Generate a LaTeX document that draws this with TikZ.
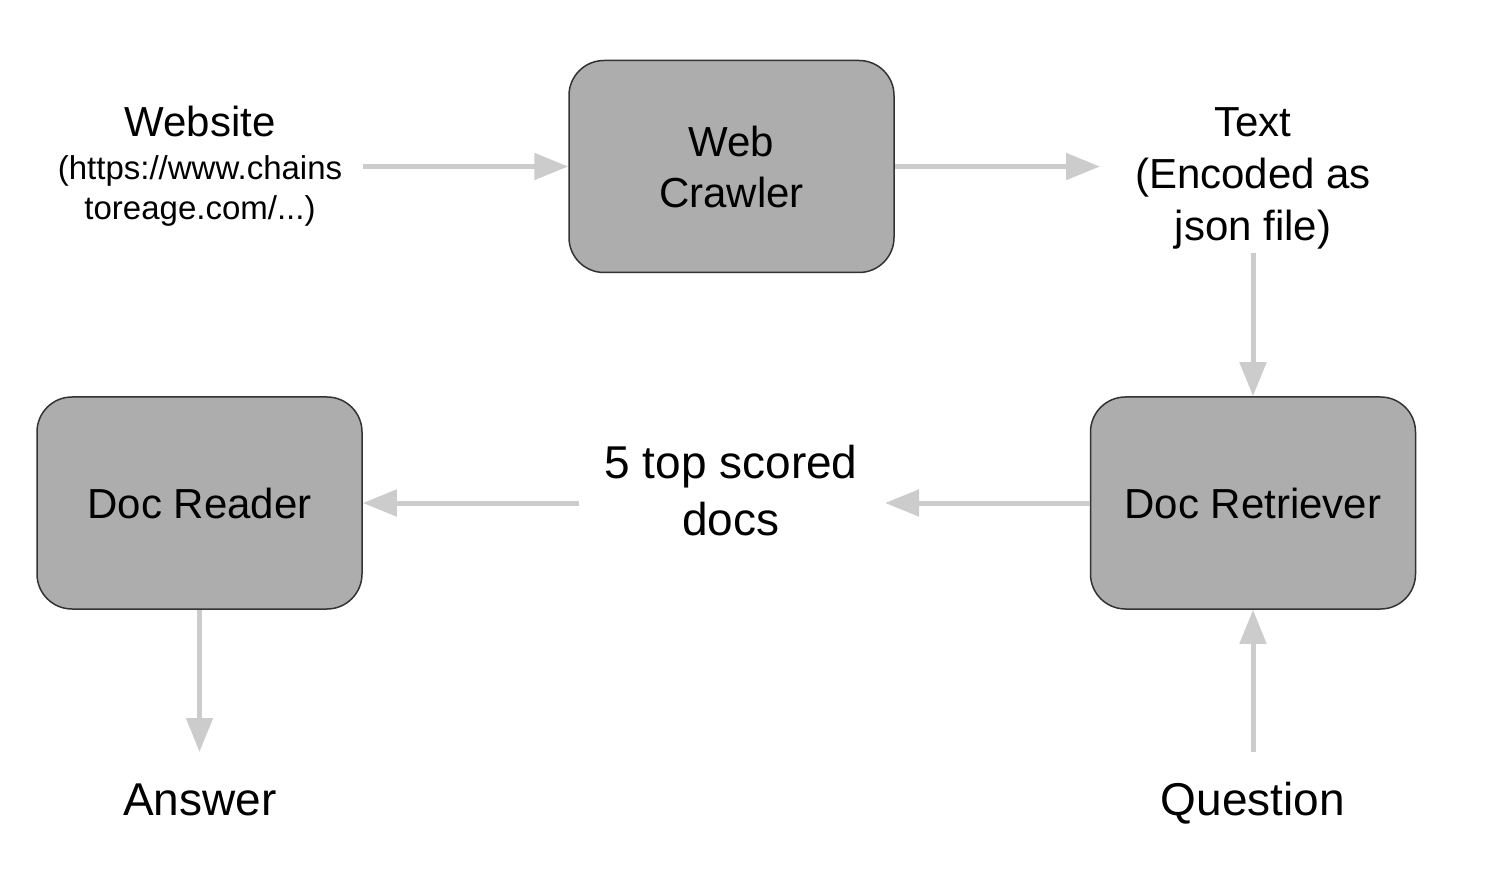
\documentclass[tikz,border=0pt]{standalone}
\usepackage{fontspec}
\setmainfont{Liberation Sans}
\usetikzlibrary{arrows.meta}
\definecolor{boxfill}{HTML}{ADADAD}
\definecolor{boxline}{HTML}{333333}
\definecolor{arrowc}{HTML}{CCCCCC}
\begin{document}
\begin{tikzpicture}[x=1pt,y=-1pt,
  box/.style={draw=boxline, line width=1.5pt, fill=boxfill, rounded corners=35pt,
    minimum width=325pt, minimum height=212pt, align=center,
    font=\fontsize{42}{51}\selectfont, inner sep=0pt},
  lbl/.style={align=center, font=\fontsize{42}{52}\selectfont, inner sep=0pt},
  biglbl/.style={align=center, font=\fontsize{46}{57}\selectfont, inner sep=0pt},
  small/.style={align=center, font=\fontsize{33}{40}\selectfont, inner sep=0pt},
  arr/.style={draw=arrowc, line width=5pt, -{Triangle[length=34pt,width=26pt]}}]
\useasboundingbox (0,0) rectangle (1508,890);
% boxes
\node[box] (crawler) at (731.5,166.5) {Web\\Crawler};
\node[box] (reader) at (199.5,503) {Doc Reader};
\node[box] (retriever) at (1253,503) {Doc Retriever};
% labels
\node[lbl] (website) at (200,121.5) {Website};
\node[small] (url) at (200,191) {(https://www.chains\\toreage.com/...)};
\node[lbl] (textout) at (1253,178) {Text\\(Encoded as\\json file)};
\node[biglbl] (topdocs) at (731,491) {5 top scored\\docs};
\node[biglbl] (answer) at (200,800) {Answer};
\node[biglbl] (question) at (1253,803) {Question};
% arrow free ends
\coordinate (a1s) at (363,166.5);
\coordinate (a2e) at (1100,166.5);
\coordinate (a3s) at (1253,253);
\coordinate (a4e) at (885,503);
\coordinate (a5s) at (579,503);
\coordinate (a6e) at (199.5,752);
\coordinate (a7s) at (1253,752);
% arrows
\draw[arr] (a1s) -- (crawler.west);
\draw[arr] (crawler.east) -- (a2e);
\draw[arr] (a3s) -- (retriever.north);
\draw[arr] (retriever.west) -- (a4e);
\draw[arr] (a5s) -- (reader.east);
\draw[arr] (reader.south) -- (a6e);
\draw[arr] (a7s) -- (retriever.south);
\end{tikzpicture}
\end{document}
